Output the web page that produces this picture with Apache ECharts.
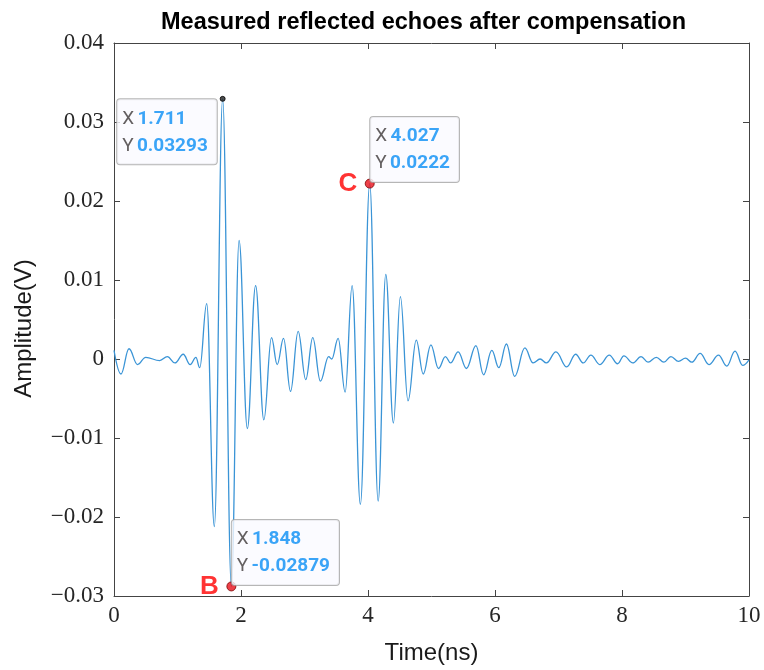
<!DOCTYPE html>
<html>
<head>
<meta charset="utf-8">
<script src="https://cdn.jsdelivr.net/npm/echarts@6/dist/echarts.min.js"></script>
<style>html,body{margin:0;padding:0;background:#fff;}#chart{width:764px;height:670px;}</style>
</head>
<body>
<div id="chart"></div>
<script>
// Time (ns) of each read extremum of the waveform
const time = [0, 0.11, 0.236, 0.37, 0.50, 0.72, 0.84, 0.96, 1.09, 1.20, 1.29, 1.35, 1.46, 1.58, 1.711, 1.848, 1.97, 2.10, 2.23, 2.36, 2.48, 2.57, 2.67, 2.78, 2.90, 3.02, 3.13, 3.25, 3.38, 3.43, 3.53, 3.64, 3.75, 3.88, 4.027, 4.16, 4.28, 4.40, 4.51, 4.63, 4.76, 4.87, 4.99, 5.11, 5.22, 5.30, 5.42, 5.55, 5.70, 5.82, 5.95, 6.06, 6.18, 6.31, 6.47, 6.60, 6.71, 6.81, 6.96, 7.13, 7.27, 7.39, 7.51, 7.65, 7.80, 7.93, 8.03, 8.17, 8.30, 8.41, 8.54, 8.66, 8.77, 8.89, 9.00, 9.10, 9.23, 9.37, 9.52, 9.65, 9.78, 9.90, 10.0];
// Amplitude (V) at those times
const amplitude = [0.0011, -0.0019, 0.0013, -0.0007, 0.0002, -0.0002, 0.0003, -0.0005, 0.0006, -0.0007, 0.0002, -0.0011, 0.0070, -0.0212, 0.03293, -0.02879, 0.0150, -0.0088, 0.0093, -0.0077, 0.0027, -0.0007, 0.0026, -0.0041, 0.0035, -0.0026, 0.0027, -0.0028, 0.0003, 0.0000, 0.0026, -0.0042, 0.0093, -0.0184, 0.0222, -0.0180, 0.0107, -0.0081, 0.0079, -0.0053, 0.0024, -0.0019, 0.0018, -0.0012, 0.0003, -0.0005, 0.0009, -0.0012, 0.0017, -0.0020, 0.0011, -0.0011, 0.0019, -0.0022, 0.0014, -0.0005, 0.0000, -0.0005, 0.0009, -0.0010, 0.0006, -0.0005, 0.0005, -0.0007, 0.0005, -0.0006, 0.0004, -0.0005, 0.0003, -0.0004, 0.0002, -0.0004, 0.0003, -0.0003, 0.0001, -0.0004, 0.0007, -0.0007, 0.0005, -0.0009, 0.0010, -0.0008, -0.0001];
// Data tips
const tipX = [1.711, 4.027, 1.848];
const tipY = [0.03293, 0.0222, -0.02879];
const tipXText = ['1.711', '4.027', '1.848'];
const tipYText = ['0.03293', '0.0222', '-0.02879'];
const tipLetter = ['', 'C', 'B'];
// Axis ticks
const xTicks = [0, 2, 4, 6, 8, 10];
const yTicks = [-0.03, -0.02, -0.01, 0, 0.01, 0.02, 0.03, 0.04];

const title = 'Measured reflected echoes after compensation';
const xName = 'Time(ns)';
const yName = 'Amplitude(V)';

const axisColor = '#444';
const serif = '"Liberation Serif", "DejaVu Serif", serif';
const sans = '"Liberation Sans", Arial, sans-serif';

function yFmt(v) {
  const r = Math.round(v * 100) / 100;
  if (Math.abs(r) < 1e-9) return '0';
  return (r < 0 ? '\u2212' : '') + Math.abs(r).toFixed(2);
}

const lineData = time.map((t, i) => [t, amplitude[i]]);

const tipStyles = [
  { size: 5, color: '#222', border: '#000', pos: [-102.5, 3.5], va: 'top' },
  { size: 9, color: '#e8101a', border: '#7a0000', pos: [5.5, 3.5], va: 'bottom' },
  { size: 9, color: '#e8101a', border: '#7a0000', pos: [5.5, 3.5], va: 'bottom' }
];

const tipData = tipX.map((x, i) => ({
  value: [x, tipY[i]],
  symbolSize: tipStyles[i].size,
  itemStyle: { color: tipStyles[i].color, borderColor: tipStyles[i].border, borderWidth: 1 },
  label: {
    show: true,
    position: tipStyles[i].pos,
    align: 'left',
    verticalAlign: tipStyles[i].va,
    formatter: '{k|X} {v|' + tipXText[i] + '}\n{k|Y} {v|' + tipYText[i] + '}'
  }
}));

const letterData = [];
tipX.forEach((x, i) => { if (tipLetter[i]) letterData.push({ value: [x, tipY[i]], name: tipLetter[i] }); });

const chart = echarts.init(document.getElementById('chart'), null, { renderer: 'canvas' });

const xCommon = { type: 'value', min: xTicks[0], max: xTicks[xTicks.length - 1], interval: xTicks[1] - xTicks[0], splitLine: { show: false },
  axisLine: { show: true, onZero: false, lineStyle: { color: axisColor, width: 1 } },
  axisTick: { show: true, inside: true, length: 6, lineStyle: { color: axisColor } } };
const yCommon = { type: 'value', min: yTicks[0], max: yTicks[yTicks.length - 1], interval: 0.01, splitLine: { show: false },
  axisLine: { show: true, onZero: false, lineStyle: { color: axisColor, width: 1 } },
  axisTick: { show: true, inside: true, length: 6, lineStyle: { color: axisColor } } };

chart.setOption({
  backgroundColor: '#fff',
  animation: false,
  title: {
    text: title, left: 156, top: 6,
    textStyle: { fontFamily: sans, fontSize: 23.5, fontWeight: 'bold', color: '#000' }
  },
  grid: { left: 114, right: 15, top: 43, bottom: 71 },
  xAxis: [
    Object.assign({}, xCommon, { position: 'bottom',
      axisLabel: { show: true, margin: 8, fontFamily: serif, fontSize: 23, color: '#262626' },
      name: xName, nameLocation: 'middle', nameGap: 45,
      nameTextStyle: { fontFamily: sans, fontSize: 24, color: '#1a1a1a', verticalAlign: 'top' } }),
    Object.assign({}, xCommon, { position: 'top', axisLabel: { show: false } })
  ],
  yAxis: [
    Object.assign({}, yCommon, { position: 'left',
      axisLabel: { show: true, margin: 10, fontFamily: serif, fontSize: 23, color: '#262626', formatter: yFmt },
      name: yName, nameLocation: 'middle', nameGap: 78, nameRotate: 90,
      nameTextStyle: { fontFamily: sans, fontSize: 24, color: '#1a1a1a', padding: [0, 0, 0, -18] } }),
    Object.assign({}, yCommon, { position: 'right', axisLabel: { show: false } })
  ],
  series: [
    {
      type: 'line', data: lineData, xAxisIndex: 0, yAxisIndex: 0,
      showSymbol: false, smooth: 0.4, smoothMonotone: 'x',
      lineStyle: { color: '#3a94d6', width: 1.3 }, z: 2, silent: true
    },
    {
      type: 'scatter', data: tipData, z: 5, silent: true,
      label: {
        show: true,
        backgroundColor: '#fafaff', borderColor: '#a4a4a4', borderWidth: 1, borderRadius: 3,
        padding: [6, 9, 5, 5],
        rich: {
          k: { fontFamily: 'Roboto, "Noto Sans", sans-serif', fontSize: 19, color: '#3d3838', lineHeight: 27 },
          v: { fontFamily: 'Roboto, "Noto Sans", sans-serif', fontSize: 19, color: '#0a8ef5', fontWeight: 'bold', lineHeight: 27 }
        }
      }
    },
    {
      type: 'scatter', data: letterData, z: 6, silent: true,
      symbolSize: 9, itemStyle: { color: 'rgba(0,0,0,0)' },
      label: { show: true, position: 'left', distance: 8, formatter: '{b}',
        fontFamily: sans, fontSize: 26, fontWeight: 'bold', color: '#ff0000' }
    }
  ]
});
</script>
</body>
</html>
